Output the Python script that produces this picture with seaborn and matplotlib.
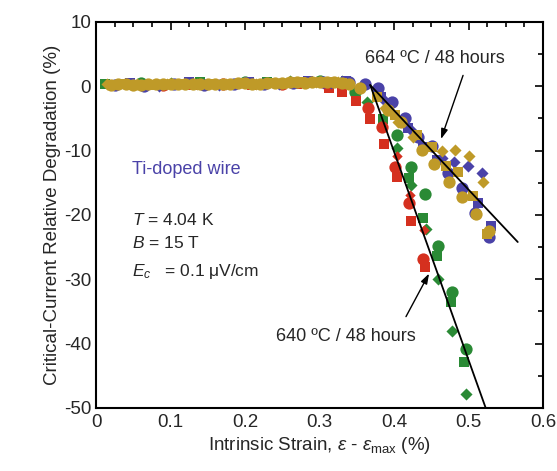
import matplotlib
matplotlib.use("Agg")
import matplotlib.pyplot as plt
import seaborn as sns
from matplotlib.ticker import MultipleLocator

sns.set_style("white")
plt.rcParams['font.family'] = ['Liberation Sans', 'DejaVu Sans']
plt.rcParams['mathtext.fontset'] = 'custom'
plt.rcParams['mathtext.rm'] = 'Liberation Sans'
plt.rcParams['mathtext.it'] = 'Liberation Sans:italic'
plt.rcParams['axes.unicode_minus'] = False

# %% Data  (strain %, degradation %)

# 664 C / 48 h
gold_circ_x = [0.02, 0.03, 0.04, 0.05, 0.06, 0.07, 0.08, 0.09, 0.10, 0.11, 0.12, 0.13, 0.14, 0.15, 0.16, 0.17,
               0.18, 0.19, 0.20, 0.21, 0.22, 0.23, 0.24, 0.25, 0.26, 0.27, 0.28, 0.29, 0.30, 0.31, 0.32, 0.33, 0.34,
               0.354, 0.392, 0.409, 0.438, 0.454, 0.474, 0.491, 0.510, 0.528]
gold_circ_y = [0.2, 0.3, 0.3, 0.2, 0.2, 0.3, 0.3, 0.3, 0.3, 0.4, 0.4, 0.3, 0.3, 0.4, 0.4, 0.4,
               0.4, 0.5, 0.5, 0.4, 0.4, 0.5, 0.5, 0.5, 0.6, 0.6, 0.5, 0.6, 0.6, 0.7, 0.6, 0.5, 0.4,
               -0.3, -3.7, -5.6, -9.9, -12.1, -14.9, -17.2, -19.8, -22.5]
gold_sq_x = [0.035, 0.075, 0.115, 0.155, 0.195, 0.235, 0.275, 0.31, 0.33,
             0.377, 0.401, 0.431, 0.451, 0.470, 0.486, 0.506, 0.525]
gold_sq_y = [0.3, 0.2, 0.4, 0.3, 0.5, 0.5, 0.6, 0.7, 0.5,
             -1.7, -4.5, -7.6, -9.5, -12.4, -13.3, -17.1, -22.9]
gold_dia_x = [0.015, 0.055, 0.095, 0.135, 0.175, 0.215, 0.255, 0.295, 0.325,
              0.388, 0.405, 0.426, 0.464, 0.482, 0.501, 0.519]
gold_dia_y = [0.3, 0.3, 0.3, 0.3, 0.4, 0.4, 0.5, 0.6, 0.6,
              -3.3, -5.6, -7.9, -10.1, -9.9, -10.9, -14.9]

blue_circ_x = [0.025, 0.065, 0.105, 0.145, 0.185, 0.225, 0.265, 0.305, 0.34,
               0.361, 0.379, 0.397, 0.415, 0.432, 0.451, 0.472, 0.491, 0.508, 0.528]
blue_circ_y = [0.2, 0.1, 0.3, 0.2, 0.3, 0.4, 0.5, 0.7, 0.6,
               0.3, -0.3, -2.5, -5.0, -7.9, -9.3, -13.5, -15.8, -19.7, -23.4]
blue_sq_x = [0.045, 0.125, 0.205, 0.285, 0.335,
             0.383, 0.419, 0.439, 0.458, 0.513, 0.530]
blue_sq_y = [0.5, 0.6, 0.7, 0.9, 0.8,
             -1.6, -6.5, -9.5, -11.5, -18.1, -21.7]
blue_dia_x = [0.085, 0.165, 0.245, 0.315,
              0.387, 0.424, 0.464, 0.481, 0.499, 0.518]
blue_dia_y = [0.1, 0.2, 0.3, 0.5,
              -2.2, -7.0, -11.2, -11.8, -12.4, -13.5]

# 640 C / 48 h
red_sq_x = [0.05, 0.13, 0.21, 0.27, 0.313, 0.330, 0.349, 0.368, 0.387, 0.404, 0.423, 0.442]
red_sq_y = [0.2, 0.2, 0.2, 0.3, -0.3, -0.9, -2.3, -5.1, -9.0, -14.1, -20.9, -28.1]
red_circ_x = [0.09, 0.17, 0.25, 0.31, 0.365, 0.384, 0.401, 0.420, 0.439]
red_circ_y = [0.2, 0.3, 0.3, 0.3, -3.4, -6.4, -12.6, -18.1, -26.8]
red_dia_x = [0.11, 0.19, 0.29, 0.404, 0.421, 0.440]
red_dia_y = [0.4, 0.5, 0.6, -10.9, -16.9, -22.3]

green_circ_x = [0.06, 0.20, 0.30, 0.348, 0.404, 0.423, 0.442, 0.459, 0.478, 0.497]
green_circ_y = [0.5, 0.7, 0.8, -0.9, -7.6, -12.6, -16.7, -24.8, -31.9, -40.8]
green_sq_x = [0.012, 0.14, 0.23, 0.385, 0.420, 0.439, 0.458, 0.477, 0.494]
green_sq_y = [0.4, 0.6, 0.7, -5.1, -14.3, -20.5, -26.4, -33.6, -42.8]
green_dia_x = [0.10, 0.26, 0.33, 0.364, 0.404, 0.423, 0.443, 0.459, 0.478, 0.497]
green_dia_y = [0.5, 0.8, 0.8, -2.5, -9.6, -15.3, -22.2, -29.9, -38.1, -47.8]

# linear fits beyond the onset
fit_664_x = [0.368, 0.566]
fit_664_y = [0.2, -24.2]
fit_640_x = [0.368, 0.523]
fit_640_y = [0.2, -50.0]

# %% Plot

blue, gold, red, green = '#4a42a8', '#bf9a28', '#d5301f', '#2a8a35'
S_CIRC, S_SQ, S_DIA = 78, 50, 38

fig = plt.figure(figsize=(5.57, 4.71), dpi=100)
ax = fig.add_axes([0.1724, 0.1338, 0.8026, 0.8195])

series = [
    (green_circ_x, green_circ_y, green, 'o', S_CIRC),
    (green_sq_x, green_sq_y, green, 's', S_SQ),
    (green_dia_x, green_dia_y, green, 'D', S_DIA),
    (red_circ_x, red_circ_y, red, 'o', S_CIRC),
    (red_sq_x, red_sq_y, red, 's', S_SQ),
    (red_dia_x, red_dia_y, red, 'D', 28),
    (blue_circ_x, blue_circ_y, blue, 'o', S_CIRC),
    (blue_sq_x, blue_sq_y, blue, 's', S_SQ),
    (blue_dia_x, blue_dia_y, blue, 'D', S_DIA),
    (gold_circ_x, gold_circ_y, gold, 'o', S_CIRC),
    (gold_sq_x, gold_sq_y, gold, 's', S_SQ),
    (gold_dia_x, gold_dia_y, gold, 'D', S_DIA),
]
for xs, ys, c, m, s in series:
    sns.scatterplot(x=xs, y=ys, color=c, marker=m, s=s, linewidth=0, ax=ax, zorder=3)

sns.lineplot(x=fit_664_x, y=fit_664_y, color='black', lw=1.3, ax=ax, zorder=4)
sns.lineplot(x=fit_640_x, y=fit_640_y, color='black', lw=1.3, ax=ax, zorder=4)

arrow = dict(arrowstyle='-|>,head_length=0.6,head_width=0.2', color='black', lw=1, shrinkA=0, shrinkB=0)
ax.annotate('', xy=(0.463, -8.2), xytext=(0.4926, 1.7), arrowprops=arrow)
ax.annotate('', xy=(0.447, -29.1), xytext=(0.416, -35.8), arrowprops=arrow)
ax.text(0.455, 4.3, '664 ºC / 48 hours', ha='center', va='center', fontsize=13)
ax.text(0.336, -38.9, '640 ºC / 48 hours', ha='center', va='center', fontsize=13)

ax.text(0.048, -13.0, 'Ti-doped wire', color=blue, ha='left', va='center', fontsize=13)
ax.text(0.048, -20.8, '$T$ = 4.04 K', ha='left', va='center', fontsize=12.5)
ax.text(0.048, -24.3, '$B$ = 15 T', ha='left', va='center', fontsize=12.5)
ax.text(0.048, -28.8, '$E_c$   = 0.1 μV/cm', ha='left', va='center', fontsize=12.5)

ax.set_xlim(0, 0.6)
ax.set_ylim(-50, 10)
ax.xaxis.set_major_locator(MultipleLocator(0.1))
ax.xaxis.set_minor_locator(MultipleLocator(0.025))
ax.yaxis.set_major_locator(MultipleLocator(10))
ax.yaxis.set_minor_locator(MultipleLocator(5))
ax.set_xticks([0, 0.1, 0.2, 0.3, 0.4, 0.5, 0.6], ['0', '0.1', '0.2', '0.3', '0.4', '0.5', '0.6'])
ax.tick_params(which='both', direction='in', top=True, right=True, width=1.4, labelsize=13.5)
ax.tick_params(which='major', length=6)
ax.tick_params(which='minor', length=3.5)
ax.tick_params(axis='x', pad=4)
for sp in ax.spines.values():
    sp.set_linewidth(1.5)
    sp.set_color('black')

ax.set_xlabel(r'Intrinsic Strain, $\varepsilon$ - $\varepsilon_{\rm max}$ (%)', fontsize=13.5, labelpad=3)
ax.set_ylabel('Critical-Current Relative Degradation (%)', fontsize=13.5, labelpad=2)

fig.savefig('out.png', dpi=100)
